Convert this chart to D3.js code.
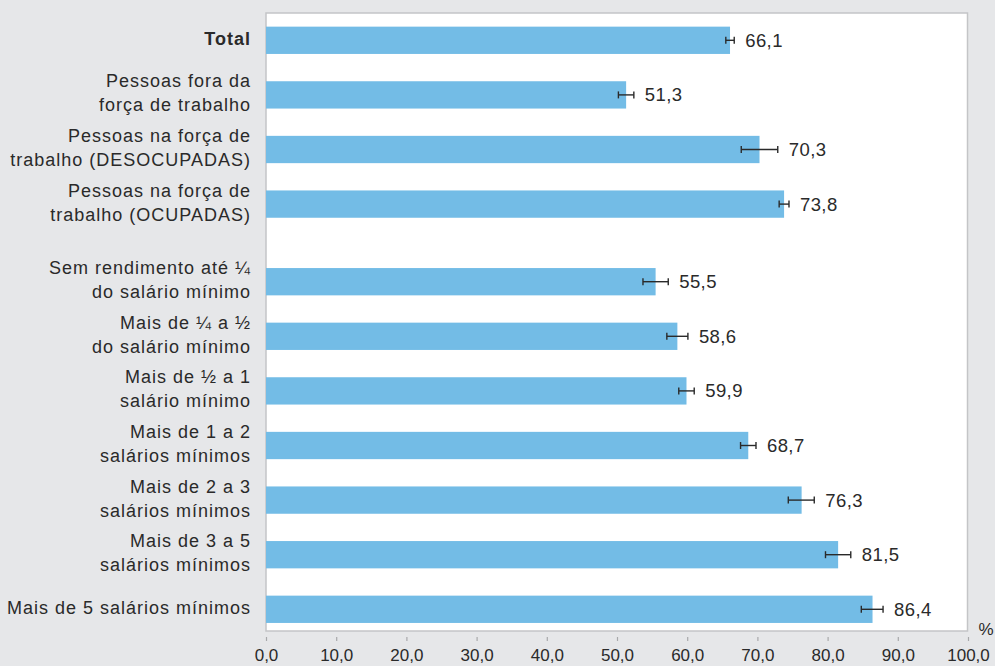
<!DOCTYPE html>
<html>
<head>
<meta charset="utf-8">
<script src="https://cdn.jsdelivr.net/npm/d3@7"></script>
<style>
  html, body { margin: 0; padding: 0; background: #e6e7e9; }
  svg { display: block; }
  text { font-family: "Liberation Sans", Arial, sans-serif; fill: #2a2a2a; }
</style>
</head>
<body>
<svg id="chart" width="995" height="666"></svg>
<script>
// ---- data ----
const categories = [
  "Total",
  "Pessoas fora da\nforça de trabalho",
  "Pessoas na força de\ntrabalho (DESOCUPADAS)",
  "Pessoas na força de\ntrabalho (OCUPADAS)",
  "Sem rendimento até ¼\ndo salário mínimo",
  "Mais de ¼ a ½\ndo salário mínimo",
  "Mais de ½ a 1\nsalário mínimo",
  "Mais de 1 a 2\nsalários mínimos",
  "Mais de 2 a 3\nsalários mínimos",
  "Mais de 3 a 5\nsalários mínimos",
  "Mais de 5 salários mínimos"
];
const groups = [0, 0, 0, 0, 1, 1, 1, 1, 1, 1, 1];
const values = [66.1, 51.3, 70.3, 73.8, 55.5, 58.6, 59.9, 68.7, 76.3, 81.5, 86.4];
const ciLow  = [65.5, 50.2, 67.7, 73.1, 53.7, 57.1, 58.8, 67.6, 74.4, 79.7, 84.8];
const ciHigh = [66.7, 52.4, 72.9, 74.5, 57.3, 60.1, 61.0, 69.8, 78.1, 83.3, 87.9];
const xTicks = [0, 10, 20, 30, 40, 50, 60, 70, 80, 90, 100];
const unitLabel = "%";

// ---- layout ----
const plot = { left: 266, right: 967.5, top: 13, bottom: 631 };
const groupGap = 23;
const fmt = v => d3.format(".1f")(v).replace(".", ",");

const svg = d3.select("#chart");

const x = d3.scaleLinear().domain([0, 100]).range([266, 968]);
const y = d3.scaleBand()
  .domain(d3.range(categories.length))
  .range([plot.top, plot.top + categories.length * 54.6])
  .paddingInner(0.5)
  .paddingOuter(0.25);
const yPos = i => y(i) + groups[i] * groupGap;

// plot background
svg.append("rect")
  .attr("x", plot.left).attr("y", plot.top)
  .attr("width", plot.right - plot.left).attr("height", plot.bottom - plot.top)
  .attr("fill", "#ffffff")
  .attr("stroke", "#c4c5c7").attr("stroke-width", 1.5);

// bars
svg.append("g").selectAll("rect")
  .data(values)
  .join("rect")
  .attr("x", x(0))
  .attr("y", (d, i) => yPos(i))
  .attr("width", d => x(d) - x(0))
  .attr("height", y.bandwidth())
  .attr("fill", "#73bce6");

// error bars
const eg = svg.append("g").attr("stroke", "#2a2a2a").attr("stroke-width", 1.4);
values.forEach((v, i) => {
  const cy = yPos(i) + y.bandwidth() / 2;
  eg.append("line").attr("x1", x(ciLow[i])).attr("x2", x(ciHigh[i])).attr("y1", cy).attr("y2", cy);
  eg.append("line").attr("x1", x(ciLow[i])).attr("x2", x(ciLow[i])).attr("y1", cy - 3.5).attr("y2", cy + 3.5);
  eg.append("line").attr("x1", x(ciHigh[i])).attr("x2", x(ciHigh[i])).attr("y1", cy - 3.5).attr("y2", cy + 3.5);
});

// value labels
svg.append("g").selectAll("text")
  .data(values)
  .join("text")
  .attr("x", (d, i) => x(ciHigh[i]) + 11)
  .attr("y", (d, i) => yPos(i) + y.bandwidth() / 2 + 6.5)
  .attr("font-size", 18.5)
  .attr("letter-spacing", 0.4)
  .text(d => fmt(d));

// category labels
const lg = svg.append("g");
categories.forEach((c, i) => {
  const lines = c.split("\n");
  const cy = yPos(i) + y.bandwidth() / 2;
  const lh = 24;
  const t = lg.append("text")
    .attr("text-anchor", "end")
    .attr("font-size", 18)
    .attr("letter-spacing", 1)
    .attr("font-weight", i === 0 ? "bold" : "normal");
  lines.forEach((ln, k) => {
    t.append("tspan")
      .attr("x", 251)
      .attr("y", cy + 4.5 + (k - (lines.length - 1) / 2) * lh)
      .text(ln);
  });
});

// x axis
const axis = d3.axisBottom(x).tickValues(xTicks).tickSize(4).tickPadding(8).tickFormat(fmt);
const ax = svg.append("g").attr("transform", "translate(0,637)").call(axis);
ax.select(".domain").remove();
ax.selectAll(".tick line").attr("stroke", "#a8a9ab").attr("stroke-width", 1.2);
ax.selectAll(".tick text").attr("font-size", 17).attr("fill", "#2a2a2a")
  .attr("font-family", "Liberation Sans, Arial, sans-serif");

svg.append("text")
  .attr("x", 986).attr("y", 635)
  .attr("text-anchor", "middle")
  .attr("font-size", 17)
  .text(unitLabel);
</script>
</body>
</html>
